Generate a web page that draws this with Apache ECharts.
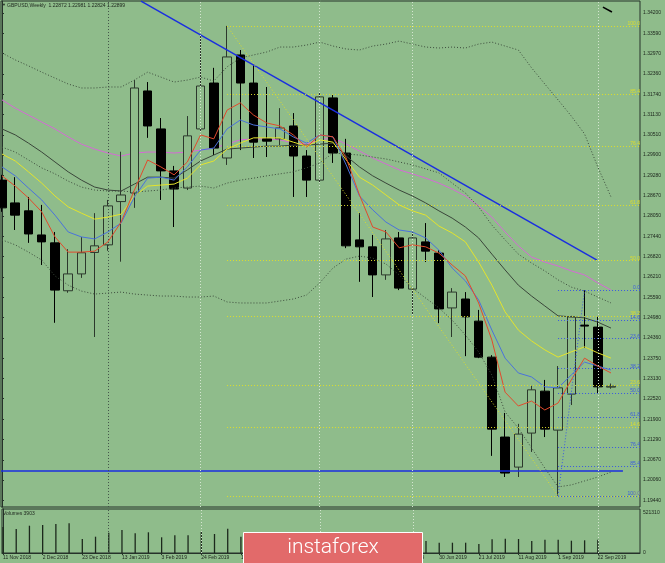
<!DOCTYPE html>
<html><head><meta charset="utf-8">
<script src="https://cdn.jsdelivr.net/npm/echarts@6/dist/echarts.min.js"></script>
<style>html,body{margin:0;padding:0;background:#8FBC8B}#c{width:665px;height:563px}</style>
</head><body><div id="c"></div><script>
// ---- DATA ----
const weeks = ['11 Nov 2018','18 Nov 2018','25 Nov 2018','2 Dec 2018','9 Dec 2018','16 Dec 2018','23 Dec 2018','30 Dec 2018',
'6 Jan 2019','13 Jan 2019','20 Jan 2019','27 Jan 2019','3 Feb 2019','10 Feb 2019','17 Feb 2019','24 Feb 2019','3 Mar 2019',
'10 Mar 2019','17 Mar 2019','24 Mar 2019','31 Mar 2019','7 Apr 2019','14 Apr 2019','21 Apr 2019','28 Apr 2019','5 May 2019',
'12 May 2019','19 May 2019','26 May 2019','2 Jun 2019','9 Jun 2019','16 Jun 2019','23 Jun 2019','30 Jun 2019','7 Jul 2019',
'14 Jul 2019','21 Jul 2019','28 Jul 2019','4 Aug 2019','11 Aug 2019','18 Aug 2019','25 Aug 2019','1 Sep 2019','8 Sep 2019',
'15 Sep 2019','22 Sep 2019','29 Sep 2019'];
const labelWeeks = [0,3,6,9,12,15,18,21,24,27,30,33,36,39,42,45];
const opens  = [1.2914,1.2845,1.2821,1.2748,1.2724,1.2579,1.2630,1.2695,1.2718,1.2849,1.2875,1.3184,1.3069,1.2942,1.2890,1.3069,1.3208,1.2981,1.3293,1.3208,1.3039,1.3039,1.3078,1.2987,1.2914,1.3163,1.2996,1.2733,1.2712,1.2627,1.2739,1.2584,1.2727,1.2693,1.2527,1.2554,1.2487,1.2378,1.2136,1.2045,1.2148,1.2275,1.2157,1.2266,1.2475,1.2469,1.22872];
const closes = [1.2830,1.2808,1.2751,1.2727,1.2581,1.2630,1.2694,1.2715,1.2836,1.2869,1.3193,1.3078,1.2942,1.2887,1.3048,1.3199,1.3011,1.3287,1.3208,1.3029,1.3032,1.3072,1.2987,1.2914,1.3166,1.2996,1.2715,1.2712,1.2627,1.2736,1.2587,1.2739,1.2699,1.2524,1.2575,1.2500,1.2378,1.2160,1.2027,1.2145,1.2279,1.2160,1.2285,1.2500,1.2472,1.2288,1.22899];
const lows   = [1.2818,1.2763,1.2724,1.2657,1.2482,1.2573,1.2618,1.2439,1.2700,1.2667,1.2830,1.3042,1.2854,1.2772,1.2884,1.3063,1.2990,1.2960,1.3005,1.2981,1.2984,1.3020,1.2863,1.2863,1.2905,1.2966,1.2708,1.2606,1.2560,1.2612,1.2581,1.2506,1.2666,1.2481,1.2439,1.2381,1.2375,1.2079,1.2015,1.2015,1.2091,1.2136,1.1958,1.2233,1.2406,1.2269,1.22824];
const highs  = [1.2930,1.2923,1.2863,1.2839,1.2757,1.2705,1.2742,1.2814,1.2854,1.3000,1.3217,1.3211,1.3102,1.2957,1.3108,1.3350,1.3254,1.3381,1.3308,1.3262,1.3196,1.3132,1.3117,1.3005,1.3178,1.3172,1.3039,1.2814,1.2748,1.2763,1.2757,1.2757,1.2784,1.2702,1.2587,1.2575,1.2521,1.2384,1.2209,1.2176,1.2291,1.2309,1.2351,1.2503,1.2581,1.2500,1.22981];
const volumes = [340000,312800,355800,364900,378000,387100,182500,212400,264600,299800,256700,269800,204600,230700,230700,273700,247600,316700,212400,240000,220000,200000,210000,190000,200000,180000,230000,200000,190000,170000,180000,170000,156400,134200,134200,134200,117300,178600,186400,182500,156400,173300,173300,160300,165500,173300,3903];
const maRed    = [1.2927,1.2896,1.2860,1.2818,1.2742,1.2696,1.2696,1.2699,1.2727,1.2787,1.2884,1.2975,1.2954,1.2930,1.2969,1.3051,1.3039,1.3126,1.3148,1.3111,1.3087,1.3078,1.3051,1.3014,1.3051,1.3045,1.2981,1.2869,1.2772,1.2757,1.2709,1.2718,1.2712,1.2693,1.2657,1.2624,1.2542,1.2430,1.2272,1.2230,1.2245,1.2218,1.2239,1.2309,1.2375,1.2351,1.2330];
const maBlue   = [1.2954,1.2927,1.2890,1.2854,1.2808,1.2757,1.2742,1.2736,1.2757,1.2784,1.2863,1.2920,1.2923,1.2914,1.2954,1.3005,1.3011,1.3069,1.3096,1.3081,1.3075,1.3069,1.3045,1.3026,1.3051,1.3045,1.2960,1.2866,1.2824,1.2787,1.2763,1.2757,1.2739,1.2702,1.2648,1.2609,1.2551,1.2460,1.2375,1.2330,1.2318,1.2288,1.2285,1.2324,1.2363,1.2351,1.2339];
const maYellow = [1.2993,1.2972,1.2939,1.2905,1.2866,1.2833,1.2814,1.2796,1.2802,1.2811,1.2866,1.2896,1.2899,1.2902,1.2920,1.2960,1.2972,1.3008,1.3026,1.3042,1.3042,1.3042,1.3029,1.3017,1.3036,1.3029,1.2975,1.2923,1.2899,1.2869,1.2839,1.2821,1.2808,1.2775,1.2754,1.2727,1.2666,1.2596,1.2515,1.2460,1.2427,1.2400,1.2378,1.2394,1.2409,1.2391,1.2375];
const maBlack  = [1.3069,1.3051,1.3026,1.2999,1.2969,1.2939,1.2914,1.2893,1.2884,1.2881,1.2902,1.2923,1.2923,1.2920,1.2945,1.2972,1.2990,1.3008,1.3011,1.3014,1.3017,1.3017,1.3020,1.3020,1.3023,1.3026,1.2987,1.2954,1.2927,1.2905,1.2884,1.2866,1.2845,1.2821,1.2799,1.2772,1.2739,1.2690,1.2642,1.2596,1.2563,1.2533,1.2503,1.2500,1.2497,1.2484,1.2466];
const maPink   = [1.3157,1.3132,1.3111,1.3090,1.3069,1.3045,1.3023,1.3008,1.2996,1.2987,1.2996,1.2999,1.2999,1.2996,1.2999,1.3005,1.3011,1.3023,1.3036,1.3039,1.3039,1.3036,1.3026,1.3023,1.3036,1.3042,1.3023,1.3002,1.2981,1.2963,1.2945,1.2933,1.2920,1.2905,1.2887,1.2866,1.2836,1.2802,1.2757,1.2715,1.2681,1.2666,1.2654,1.2639,1.2627,1.2603,1.2581];
const bandUpper = [1.3299,1.3278,1.3260,1.3241,1.3223,1.3205,1.3193,1.3193,1.3196,1.3196,1.3217,1.3241,1.3226,1.3211,1.3217,1.3226,1.3214,1.3257,1.3284,1.3293,1.3302,1.3317,1.3317,1.3323,1.3332,1.3320,1.3311,1.3308,1.3320,1.3326,1.3335,1.3326,1.3317,1.3314,1.3317,1.3314,1.3326,1.3332,1.3320,1.3308,1.3254,1.3205,1.3157,1.3108,1.3054,1.2954,1.2863];
const bandLower = [1.2733,1.2718,1.2696,1.2672,1.2624,1.2596,1.2578,1.2569,1.2572,1.2575,1.2569,1.2566,1.2563,1.2563,1.2560,1.2560,1.2563,1.2545,1.2542,1.2542,1.2542,1.2548,1.2554,1.2566,1.2603,1.2648,1.2675,1.2684,1.2678,1.2660,1.2627,1.2587,1.2557,1.2527,1.2490,1.2445,1.2394,1.2324,1.2212,1.2163,1.2103,1.2042,1.1985,1.1991,1.2003,1.2015,1.2030];
const bandInner = [1.3014,1.2999,1.2975,1.2951,1.2933,1.2911,1.2893,1.2884,1.2881,1.2881,1.2878,1.2881,1.2884,1.2890,1.2893,1.2896,1.2890,1.2905,1.2914,1.2920,1.2927,1.2933,1.2939,1.2951,1.2966,1.2996,1.2993,1.2990,1.2984,1.2978,1.2969,1.2960,1.2948,1.2936,1.2905,1.2875,1.2833,1.2778,1.2733,1.2690,1.2663,1.2639,1.2612,1.2590,1.2578,1.2560,1.2542];
const priceTicks = [1.34200,1.33590,1.32970,1.32360,1.31740,1.31130,1.30510,1.29900,1.29280,1.28670,1.28050,1.27440,1.26820,1.26210,1.25590,1.24980,1.24360,1.23750,1.23130,1.22520,1.21900,1.21290,1.20670,1.20060,1.19440];
const volumeTicks = [0, 521310];
const fibLabels = ['0.0','14.6','23.6','38.2','50.0','61.8','76.4','85.4','100.0'];
const fibYellowPrices = [1.1958,1.2166,1.2294,1.2502,1.2670,1.2837,1.3017,1.3173,1.3381];
const fibYellowStart = 17, fibYellowEnd = 42;
const fibBluePrices = [1.2581,1.2490,1.2434,1.2343,1.2270,1.2196,1.2105,1.2049,1.1958];
const fibBlueStart = 42, fibBlueEnd = 44;
const trendUpper = [[10.5,1.3456],[44.94,1.2672]];
const trendLower = [[-0.0755,1.2570],[28.55,1.1924]];
const supportLevel = 1.2033, supportEnd = 46.9;
const trendTop = [[45.39,1.3438],[46.07,1.3423]];
const gridWeeksLight = [15,24,31,45];
const gridWeeksDark = [8];
const lastPrice = 1.22899;
const title = 'GBPUSD,Weekly  1.22872 1.22981 1.22824 1.22899';

// ---- CHART ----
const bg = '#8FBC8B';
const X_MIN = -0.0755, X_MAX = 48.19;
const Y_MIN = 1.19242, Y_MAX = 1.34564;
const VOL_MAX = 573440;
const FONT = 'Liberation Sans';
const axisColor = '#26322a';

const candles = opens.map((o,i)=>[i,o,closes[i],lows[i],highs[i]]);
const toXY = arr => arr.map((v,i)=>[i,v]);

function vLines(){
  return gridWeeksDark.map(w=>({xAxis:w,lineStyle:{color:'#44564a',type:[1,2],width:1}}))
    .concat(gridWeeksLight.map(w=>({xAxis:w,lineStyle:{color:'#d4e6d0',type:[1,2],width:1}})));
}
function fibLines(prices,startIdx,endIdx,color,fromLow,toHigh){
  const items = prices.map((p,k)=>[
    {coord:[startIdx,p],lineStyle:{color:color,type:[1,2],width:1},
     label:{show:true,position:'insideEndTop',formatter:fibLabels[k],color:color,fontSize:5,fontFamily:FONT,distance:[0,0]}},
    {coord:[X_MAX,p]}
  ]);
  items.push([{coord:[startIdx,fromLow],lineStyle:{color:color,type:[1,2],width:1},label:{show:false}},{coord:[endIdx,toHigh]}]);
  return items;
}
const mkLineCommon = {silent:true,symbol:['none','none'],animation:false};

const maSeries = (data,color,type,extra)=>Object.assign({
  type:'line',xAxisIndex:0,yAxisIndex:0,data:toXY(data),symbol:'none',smooth:false,
  lineStyle:{color:color,width:1,type:type||'solid'},z:3,silent:true
},extra||{});

const option = {
  animation:false,
  backgroundColor:bg,
  grid:[
    {left:1,right:25,top:1,height:506,show:true,borderColor:axisColor,borderWidth:1,backgroundColor:'transparent'},
    {left:1,right:25,top:509,height:44,show:true,borderColor:axisColor,borderWidth:1,backgroundColor:'transparent'}
  ],
  xAxis:[
    {type:'value',gridIndex:0,min:X_MIN,max:X_MAX,show:false},
    {type:'value',gridIndex:1,min:X_MIN,max:X_MAX,splitLine:{show:false},
     axisLine:{show:true,lineStyle:{color:axisColor}},
     axisTick:{show:true,customValues:labelWeeks,length:2,lineStyle:{color:axisColor}},
     axisLabel:{customValues:labelWeeks,formatter:v=>weeks[Math.round(v)],align:'left',fontSize:5,fontFamily:FONT,color:'#1c241c',margin:2}}
  ],
  yAxis:[
    {type:'value',gridIndex:0,position:'right',min:Y_MIN,max:Y_MAX,splitLine:{show:false},
     axisLine:{show:true,lineStyle:{color:axisColor}},
     axisTick:{show:true,customValues:priceTicks,length:2,lineStyle:{color:axisColor}},
     axisLabel:{customValues:priceTicks,formatter:v=>v.toFixed(5),fontSize:5,fontFamily:FONT,color:'#1c241c',margin:3}},
    {type:'value',gridIndex:1,position:'right',min:0,max:VOL_MAX,splitLine:{show:false},
     axisLine:{show:true,lineStyle:{color:axisColor}},
     axisTick:{show:false},
     axisLabel:{customValues:volumeTicks,formatter:v=>String(v),fontSize:5,fontFamily:FONT,color:'#1c241c',margin:3}}
  ],
  series:[
    {type:'candlestick',xAxisIndex:0,yAxisIndex:0,data:candles,encode:{x:0,y:[1,2,3,4]},barWidth:9,z:2,silent:true,
     itemStyle:{color:bg,color0:'#000000',borderColor:'#2c382c',borderColor0:'#000000',borderWidth:1},
     markLine:Object.assign({},mkLineCommon,{data:[
       [{coord:trendUpper[0],lineStyle:{color:'#1a2ee0',width:1.5,type:'solid'},label:{show:false}},{coord:trendUpper[1]}],
       [{coord:trendLower[0],lineStyle:{color:'#1a2ee0',width:1.5,type:'solid'},label:{show:false}},{coord:trendLower[1]}],
       [{coord:[X_MIN,supportLevel],lineStyle:{color:'#1a2ee0',width:1.5,type:'solid'},label:{show:false}},{coord:[supportEnd,supportLevel]}],
       [{coord:trendTop[0],lineStyle:{color:'#000',width:1.5,type:'solid'},label:{show:false}},{coord:trendTop[1]}],
       {yAxis:lastPrice,lineStyle:{opacity:0},label:{show:true,position:'end',formatter:lastPrice.toFixed(5),color:'#fff',backgroundColor:'#000',fontSize:5,fontFamily:FONT,padding:[1,2,0,2],distance:1}}
     ]})},
    maSeries(bandUpper,'#3c4c3c',[1,2]),
    maSeries(bandLower,'#3c4c3c',[1,2]),
    maSeries(bandInner,'#3c4c3c',[1,2]),
    maSeries(maPink,'#d66ad6',null,{markLine:Object.assign({},mkLineCommon,{label:{show:false},data:vLines()}),z:1}),
    maSeries(maBlack,'#3a463a'),
    maSeries(maYellow,'#e4e42c',null,{markLine:Object.assign({},mkLineCommon,{data:fibLines(fibYellowPrices,fibYellowStart,fibYellowEnd,'#dede2a',fibYellowPrices[8],fibYellowPrices[0])})}),
    maSeries(maBlue,'#4a72dc',null,{markLine:Object.assign({},mkLineCommon,{data:fibLines(fibBluePrices,fibBlueStart,fibBlueEnd,'#3a5ae0',fibBluePrices[8],fibBluePrices[0])})}),
    maSeries(maRed,'#e24a2c'),
    {type:'bar',xAxisIndex:1,yAxisIndex:1,data:toXY(volumes),barWidth:1.3,silent:true,
     itemStyle:{color:'#1c281c'},
     markLine:Object.assign({},mkLineCommon,{label:{show:false},data:vLines()})}
  ],
  graphic:[
    {type:'text',left:2,top:3,style:{text:'▼',fontSize:4,fill:'#1c241c',fontFamily:FONT}},
    {type:'text',left:7,top:3,style:{text:title,fontSize:5,fill:'#1c241c',fontFamily:FONT}},
    {type:'text',left:3,top:511,style:{text:'Volumes 3903',fontSize:5,fill:'#1c241c',fontFamily:FONT}},
    {type:'rect',left:243,top:532,shape:{width:179,height:34},style:{fill:'#e26a6a',stroke:'#ffffff',lineWidth:1},z:100},
    {type:'text',left:'center',top:533,x:0,style:{text:'instaforex',fontSize:21,fontWeight:300,fill:'#ffffff',fontFamily:'Roboto',x:333,y:548,align:'center',verticalAlign:'middle'},z:101,left:null,top:null}
  ]
};
const chart = echarts.init(document.getElementById('c'),null,{renderer:'canvas'});
chart.setOption(option);
</script></body></html>
